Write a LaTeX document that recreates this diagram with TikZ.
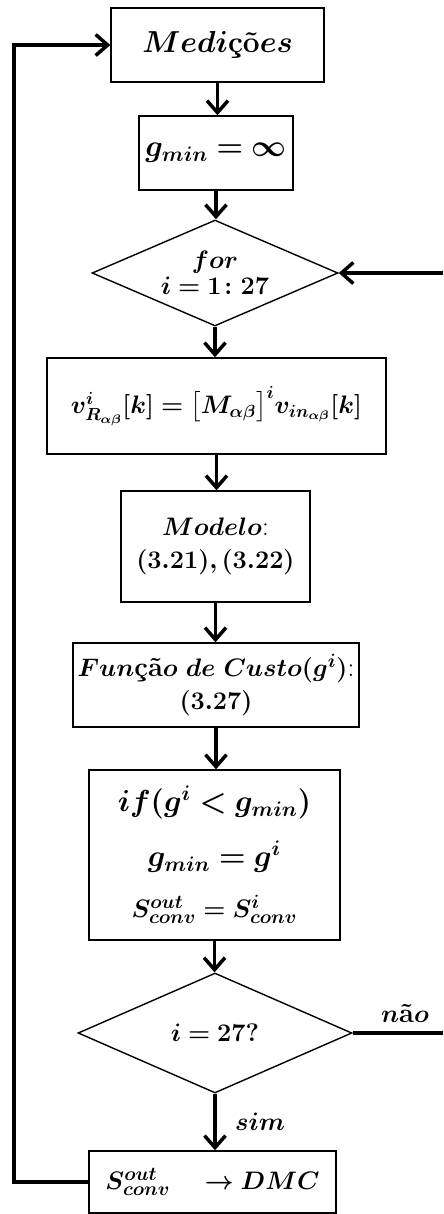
\documentclass[tikz,border=0pt]{standalone}
\usepackage{bm}
\usepackage{amsmath}
\usepackage{tikz}
\usetikzlibrary{arrows.meta,calc,positioning,shapes.geometric}

\begin{document}
\begin{tikzpicture}[
    x=0.02cm,
    y=-0.02cm,
    font=\fontsize{15.5}{19}\selectfont,
    >=Stealth,
    block/.style={draw=black,line width=0.8pt,rectangle,inner sep=0pt,
                  align=center},
    decision/.style={draw=black,line width=0.8pt,diamond,aspect=2.3,
                     inner sep=0pt,align=center},
    flow/.style={-{Straight Barb[length=2.4mm,width=4.2mm]},
                draw=black,line width=2pt},
    wire/.style={draw=black,line width=2pt}
]

\useasboundingbox (0,0) rectangle (443,1214);

% blocos
\node[block,minimum width=4.26cm,minimum height=1.48cm] (med) at (217.5,45)
    {\fontsize{17}{20}\selectfont$\bm{Medi}$\textbf{çõ}$\bm{es}$};
\node[block,minimum width=3.08cm,minimum height=1.48cm] (ginit) at (216,153)
    {\fontsize{17}{20}\selectfont$\bm{g_{min}=\infty}$};
\node[decision,minimum width=4.92cm,minimum height=2.12cm] (loop) at (215,273)
    {$\bm{for}$\\[-4pt]$\bm{i=1\colon 27}$};
\node[block,minimum width=6.78cm,minimum height=1.92cm] (vref) at (216.5,406)
    {\fontsize{14.5}{18}\selectfont$\bm{v^{i}_{R_{\alpha\beta}}[k]=\bigl[M_{\alpha\beta}\bigr]^{i}v_{in_{\alpha\beta}}[k]}$};
\node[block,minimum width=3.78cm,minimum height=2.22cm] (model) at (215.5,546.5)
    {$\bm{Modelo}$:\\$\bm{(3.21),(3.22)}$};
\node[block,minimum width=5.72cm,minimum height=1.68cm] (cost) at (216,685)
    {$\bm{Fun}$\textbf{çã}$\bm{o\ de\ Custo(g^{i})}$:\\$\bm{(3.27)}$};
\node[block,minimum width=5.02cm,minimum height=3.4cm] (best) at (214.5,855)
    {\fontsize{16.5}{20}\selectfont$\bm{if(g^{i}<g_{min})}$\\[12pt]
     \fontsize{16.5}{20}\selectfont$\bm{g_{min}=g^{i}}$\\[10pt]
     $\bm{S^{out}_{conv}=S^{i}_{conv}}$};
\node[decision,minimum width=5.48cm,minimum height=2.4cm] (test) at (215,1033)
    {$\bm{i=27?}$};
\node[block,minimum width=4.94cm,minimum height=1.24cm] (dmc) at (212.5,1182)
    {$\bm{S^{out}_{conv}}\quad\bm{\rightarrow DMC}$};

\coordinate (backL) at (14,1182);
\coordinate (noR) at (443,1033);
\coordinate (forR) at (443,273);

% setas
\draw[flow] (med.south) -- (med.south |- ginit.north);
\draw[flow] (ginit.south) -- (ginit.south |- loop.north);
\draw[flow] (loop.south) -- (loop.south |- vref.north);
\draw[flow] (vref.south) -- (vref.south |- model.north);
\draw[flow] (model.south) -- (model.south |- cost.north);
\draw[flow] (cost.south) -- (cost.south |- best.north);
\draw[flow] (best.south) -- (best.south |- test.north);
\draw[flow] (test.south) -- node[right=0.25cm] {$\bm{sim}$} (test.south |- dmc.north);

\draw[flow] (dmc.west) -- (backL) |- (med.west);
\draw[wire] (test.east) -- (noR);
\draw[flow] (forR) -- (loop.east);

\node[above=0.08cm] at ($(test.east)!0.58!(noR)$) {$\bm{n}$\textbf{ã}$\bm{o}$};

\end{tikzpicture}
\end{document}
